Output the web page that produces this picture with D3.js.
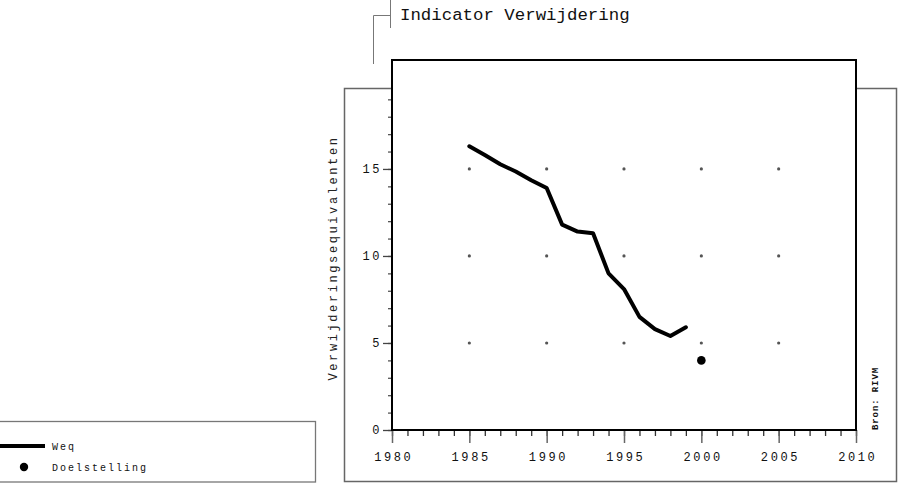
<!DOCTYPE html>
<html><head><meta charset="utf-8">
<script src="https://cdn.jsdelivr.net/npm/d3@7"></script>
<style>
html,body{margin:0;padding:0;background:#fff;}
svg{display:block;font-family:"Liberation Mono","DejaVu Sans Mono",monospace;}
</style></head>
<body>
<svg id="chart" width="898" height="484"></svg>
<script>
const title = "Indicator Verwijdering";
const yLabel = "Verwijderingsequivalenten";
const source = "Bron: RIVM";
const years = [1985,1986,1987,1988,1989,1990,1991,1992,1993,1994,1995,1996,1997,1998,1999];
const weq = [16.3,15.8,15.27,14.85,14.35,13.9,11.8,11.4,11.3,9.0,8.1,6.5,5.8,5.4,5.9];
const targetYears = [2000];
const targetValues = [4];
const gridYears = [1985,1990,1995,2000,2005];
const gridValues = [5,10,15];
const xMajorTicks = [1980,1985,1990,1995,2000,2005,2010];
const yMajorTicks = [0,5,10,15];
const legendLabels = ["Weq","Doelstelling"];

const svg = d3.select("#chart");
const x = d3.scaleLinear().domain([1980, 2010]).range([392, 856]);
const y = d3.scaleLinear().domain([0, 21.26]).range([430, 60]);

// title bracket
const br = svg.append("g").attr("stroke","#777").attr("stroke-width",1).attr("fill","none");
br.append("path").attr("d","M373.5,64 V15.5 H390");
br.append("path").attr("d","M390.5,0 V28");
svg.append("text").attr("x",400).attr("y",20).attr("font-size",17.4).attr("fill","#111").text(title);

// outer box
svg.append("rect").attr("x",344.5).attr("y",88.5).attr("width",552).attr("height",393)
  .attr("fill","#fff").attr("stroke","#666").attr("stroke-width",1.5);

// frame
svg.append("rect").attr("x",x(1980)).attr("y",y.range()[1]).attr("width",x(2010)-x(1980)).attr("height",y(0)-y.range()[1])
  .attr("fill","#fff").attr("stroke","#000").attr("stroke-width",2);

// x axis minor
const xMinor = svg.append("g").attr("transform",`translate(0,${y(0)})`)
  .call(d3.axisBottom(x).tickValues(d3.range(1980,2011)).tickSize(6).tickFormat(""));
xMinor.select(".domain").remove();
xMinor.selectAll("line").attr("stroke","#333").attr("stroke-width",1.3);
const xMajor = svg.append("g").attr("transform",`translate(0,${y(0)})`)
  .call(d3.axisBottom(x).tickValues(xMajorTicks).tickSize(13).tickPadding(9).tickFormat(d3.format("d")));
xMajor.select(".domain").remove();
xMajor.selectAll("line").attr("stroke","#666").attr("stroke-width",1.5);
xMajor.selectAll("text").attr("font-family","Liberation Mono, monospace").attr("font-size",12)
  .attr("letter-spacing",2.6).attr("dx",1.3).attr("fill","#111");

// y axis minor
const yMinor = svg.append("g").attr("transform",`translate(${x(1980)},0)`)
  .call(d3.axisLeft(y).tickValues(d3.range(0,20)).tickSize(4).tickFormat(""));
yMinor.select(".domain").remove();
yMinor.selectAll("line").attr("stroke","#555").attr("stroke-width",1.3);
const yMajor = svg.append("g").attr("transform",`translate(${x(1980)},0)`)
  .call(d3.axisLeft(y).tickValues(yMajorTicks).tickSize(9).tickPadding(1));
yMajor.select(".domain").remove();
yMajor.selectAll("line").attr("stroke","#444").attr("stroke-width",1.3);
yMajor.selectAll("text").attr("font-family","Liberation Mono, monospace").attr("font-size",12)
  .attr("letter-spacing",2.6).attr("fill","#111");

// redraw frame lines over ticks
svg.append("rect").attr("x",x(1980)).attr("y",y.range()[1]).attr("width",x(2010)-x(1980)).attr("height",y(0)-y.range()[1])
  .attr("fill","none").attr("stroke","#000").attr("stroke-width",2);

// y label
svg.append("text").attr("transform",`translate(337,258) rotate(-90)`)
  .attr("text-anchor","middle").attr("font-size",12).attr("letter-spacing",2.6).attr("fill","#222").text(yLabel);

// source
svg.append("text").attr("transform",`translate(878,430) rotate(-90)`)
  .attr("font-size",9).attr("font-weight","bold").attr("letter-spacing",0.9).attr("fill","#111").text(source);

// grid dots
const gridPts = [];
gridYears.forEach(gy => gridValues.forEach(gv => gridPts.push([gy, gv])));
svg.append("g").selectAll("circle").data(gridPts).join("circle")
  .attr("cx", d => x(d[0])).attr("cy", d => y(d[1])).attr("r",1.6).attr("fill","#555");

// line
const line = d3.line().x((d,i) => x(years[i])).y(d => y(d));
svg.append("path").datum(weq).attr("d", line).attr("fill","none").attr("stroke","#000")
  .attr("stroke-width",4).attr("stroke-linejoin","round").attr("stroke-linecap","round");

// target
svg.append("g").selectAll("circle").data(targetValues).join("circle")
  .attr("cx",(d,i) => x(targetYears[i])).attr("cy", d => y(d)).attr("r",4.3).attr("fill","#000");

// legend
svg.append("rect").attr("x",-1).attr("y",421.5).attr("width",316.5).attr("height",60.5)
  .attr("fill","#fff").attr("stroke","#777").attr("stroke-width",1.3);
svg.append("line").attr("x1",0).attr("x2",45).attr("y1",446).attr("y2",446).attr("stroke","#000").attr("stroke-width",4);
svg.append("circle").attr("cx",24).attr("cy",467).attr("r",4.2).attr("fill","#000");
svg.append("g").selectAll("text").data(legendLabels).join("text")
  .attr("x",52).attr("y",(d,i) => 450 + i*21).attr("font-size",10).attr("letter-spacing",2).attr("fill","#111").text(d => d);
</script>
</body></html>
